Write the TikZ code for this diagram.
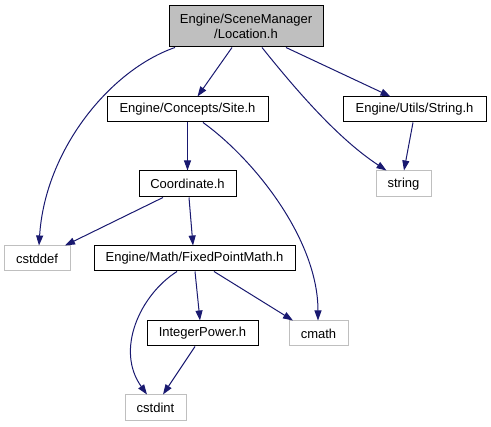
\documentclass[tikz,border=0pt]{standalone}
\usepackage{fontspec}
\setmainfont{Liberation Sans}
\usetikzlibrary{arrows.meta}
\definecolor{edgeblue}{HTML}{191970}
\definecolor{sysgray}{HTML}{BFBFBF}
\begin{document}
\begin{tikzpicture}[x=1pt,y=-1pt,
  every node/.style={font=\fontsize{13}{14.5}\selectfont},
  filebox/.style={draw=black,line width=1pt,rectangle,inner sep=0pt,align=center},
  sysbox/.style={draw=sysgray,line width=1pt,rectangle,inner sep=0pt,align=center},
  dep/.style={draw=edgeblue,line width=1pt,-{Triangle[length=10pt,width=7pt]}}]
\useasboundingbox (0,0) rectangle (491,427);
\node[filebox,fill=sysgray,minimum width=154pt,minimum height=41pt] (loc) at (246,26.5) {Engine/SceneManager\\/Location.h};
\node[filebox,minimum width=161pt,minimum height=25pt] (site) at (187.5,109.5) {Engine/Concepts/Site.h};
\node[filebox,minimum width=143pt,minimum height=25pt] (str) at (414.5,109.5) {Engine/Utils/String.h};
\node[sysbox,minimum width=55pt,minimum height=26pt] (string) at (403.5,184) {string};
\node[filebox,minimum width=97pt,minimum height=26pt] (coord) at (187.5,184) {Coordinate.h};
\node[sysbox,minimum width=66pt,minimum height=25pt] (cstddef) at (37,258.5) {cstddef};
\node[filebox,minimum width=201pt,minimum height=25pt] (fpm) at (194.5,258.5) {Engine/Math/FixedPointMath.h};
\node[filebox,minimum width=111pt,minimum height=25pt] (ipow) at (202.5,333.5) {IntegerPower.h};
\node[sysbox,minimum width=59pt,minimum height=25pt] (cmath) at (318.5,333.5) {cmath};
\node[sysbox,minimum width=61pt,minimum height=26pt] (cstdint) at (155.5,408) {cstdint};

\draw[dep] ([xshift=-71pt]loc.south) .. controls (110,70) and (45,150) .. ([xshift=2pt]cstddef.north);
\draw[dep] ([xshift=-14pt]loc.south) -- ([xshift=10pt]site.north);
\draw[dep] ([xshift=16pt]loc.south) .. controls (300,95) and (340,140) .. ([xshift=-17pt]string.north);
\draw[dep] ([xshift=40pt]loc.south) -- ([xshift=-24pt]str.north);
\draw[dep] (site.south) -- (coord.north);
\draw[dep] ([xshift=15.5pt]site.south) .. controls (255,160) and (318,240) .. ([xshift=-0.5pt]cmath.north);
\draw[dep] ([xshift=-1.5pt]str.south) -- ([xshift=0.5pt]string.north);
\draw[dep] ([xshift=-24.5pt]coord.south) -- ([xshift=28pt]cstddef.north);
\draw[dep] ([xshift=1.5pt]coord.south) -- ([xshift=-1.5pt]fpm.north);
\draw[dep] ([xshift=0.5pt]fpm.south) -- ([xshift=-2.5pt]ipow.north);
\draw[dep] ([xshift=19.5pt]fpm.south) -- ([xshift=-25.5pt]cmath.north);
\draw[dep] ([xshift=-17.5pt]fpm.south) .. controls (140,295) and (115,350) .. ([xshift=-8.5pt]cstdint.north);
\draw[dep] ([xshift=-7.5pt]ipow.south) -- ([xshift=7.5pt]cstdint.north);
\end{tikzpicture}
\end{document}
